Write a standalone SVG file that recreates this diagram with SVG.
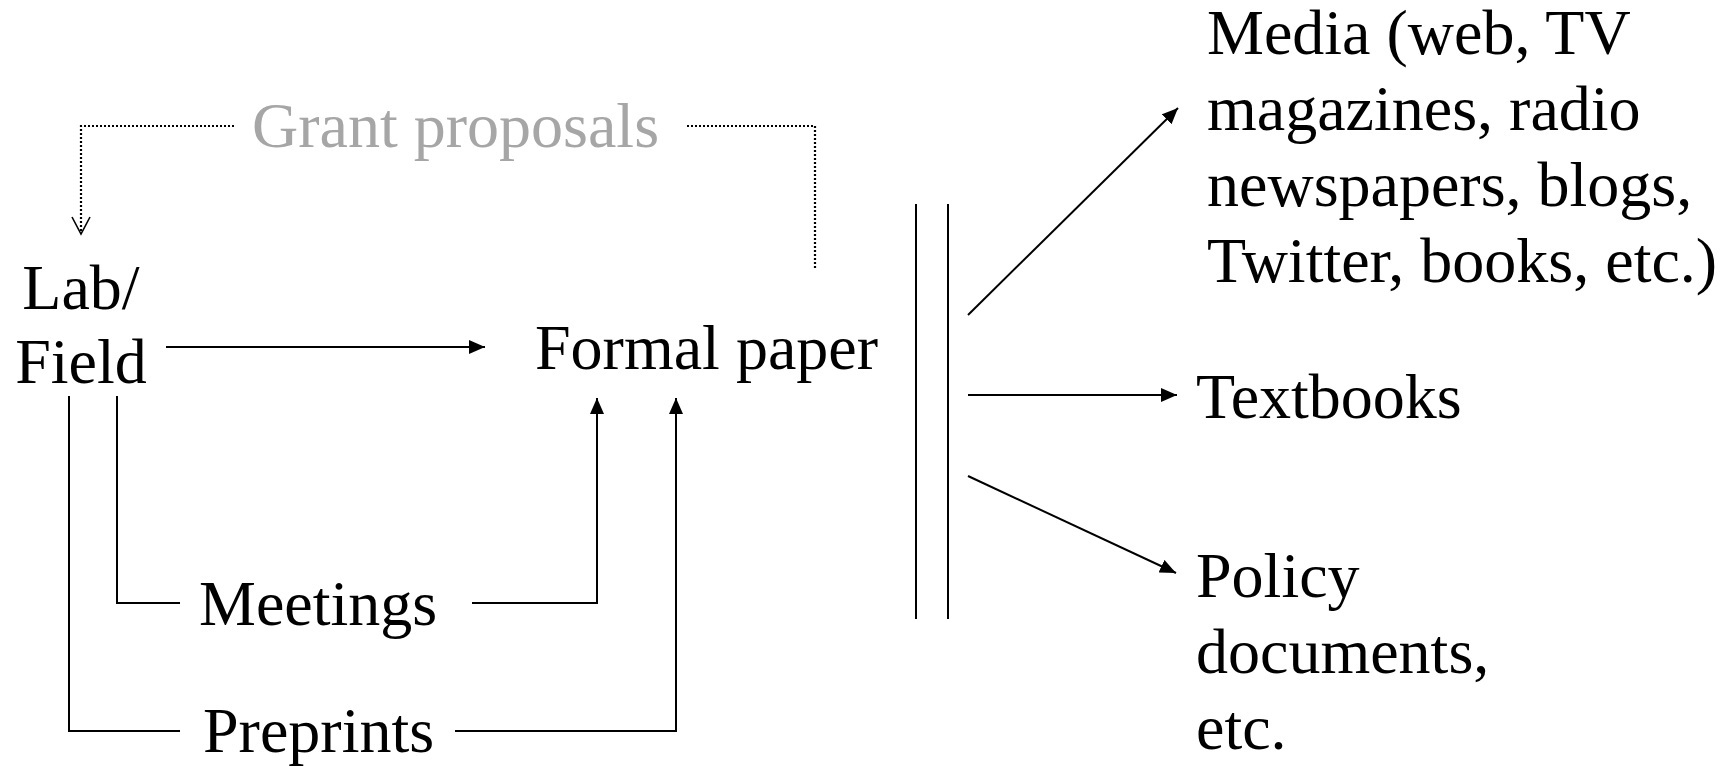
<svg xmlns="http://www.w3.org/2000/svg" width="1732" height="767" viewBox="0 0 1732 767">
<style>
text{font-family:"Liberation Serif","Times New Roman",serif;font-size:64px;fill:#000}
.gray{fill:#a6a6a6}
.ln{fill:none;stroke:#000;stroke-width:2}
.dot{fill:none;stroke:#000;stroke-width:2.2;stroke-dasharray:2 2}
</style>
<defs>
<marker id="ah" markerUnits="userSpaceOnUse" markerWidth="17" markerHeight="14" refX="16" refY="7" orient="auto">
<path d="M0,0 L16,7 L0,14 z" fill="#000"/>
</marker>
</defs>
<rect width="1732" height="767" fill="#fff"/>
<g id="connectors">
<path class="dot" d="M234,126 H81 V232"/>
<path d="M72,217 L81,234 L90,217" fill="none" stroke="#000" stroke-width="1.6"/>
<path class="dot" d="M687,126 H815 V268"/>
<path class="ln" d="M166,347 H485" marker-end="url(#ah)"/>
<path class="ln" d="M117,396 V603 H180"/>
<path class="ln" d="M472,603 H597 V398" marker-end="url(#ah)"/>
<path class="ln" d="M69,396 V731 H180"/>
<path class="ln" d="M455,731 H676 V398" marker-end="url(#ah)"/>
<path class="ln" d="M916,204 V619"/>
<path class="ln" d="M948,204 V619"/>
<path class="ln" d="M968,315 L1178,108" marker-end="url(#ah)"/>
<path class="ln" d="M968,395 H1177" marker-end="url(#ah)"/>
<path class="ln" d="M968,476 L1176,573" marker-end="url(#ah)"/>
</g>
<g id="grant"><text class="gray" x="252" y="147">Grant proposals</text></g>
<g id="lab"><text x="81" y="309" text-anchor="middle">Lab/</text><text x="81" y="383" text-anchor="middle">Field</text></g>
<g id="formal"><text x="535" y="369">Formal paper</text></g>
<g id="meetings"><text x="199" y="625">Meetings</text></g>
<g id="preprints"><text x="203" y="752">Preprints</text></g>
<g id="media">
<text x="1207" y="54">Media (web, TV</text>
<text x="1207" y="130">magazines, radio</text>
<text x="1207" y="206">newspapers, blogs,</text>
<text x="1207" y="282">Twitter, books, etc.)</text>
</g>
<g id="textbooks"><text x="1196" y="418">Textbooks</text></g>
<g id="policy">
<text x="1196" y="597">Policy</text>
<text x="1196" y="673">documents,</text>
<text x="1196" y="749">etc.</text>
</g>
</svg>
